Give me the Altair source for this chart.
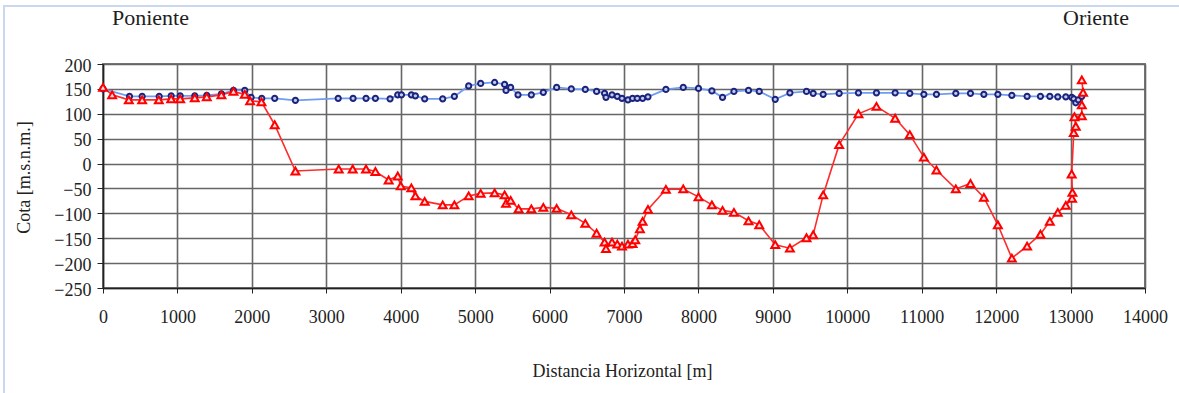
import altair as alt
import pandas as pd

# Perfil topográfico (superficie) y trazado del túnel: distancia horizontal [m] vs cota [m.s.n.m.]
superficie_x = [0, 356, 526, 755, 916, 1037, 1233, 1394, 1591, 1753, 1905, 1990, 2133, 2307,
                2585, 3160, 3360, 3534, 3660, 3857, 3960, 4010, 4143, 4197, 4322, 4564, 4721,
                4913, 5074, 5262, 5396, 5415, 5477, 5576, 5755, 5916, 6095, 6292, 6480, 6632,
                6739, 6758, 6839, 6910, 6973, 7053, 7115, 7178, 7250, 7322, 7563, 7796, 8001,
                8181, 8324, 8477, 8673, 8817, 9032, 9229, 9452, 9542, 9676, 9891, 10150, 10392,
                10643, 10840, 11029, 11198, 11458, 11655, 11835, 12023, 12211, 12416, 12595,
                12721, 12828, 12936, 13016, 13043, 13070, 13105, 13150]
superficie_y = [150, 135, 135, 135, 136, 136, 136, 137, 140, 147, 147, 133, 131, 131,
                127, 131, 131, 131, 131, 130, 138, 138, 138, 136, 130, 130, 135,
                156, 161, 163, 159, 147, 153, 138, 138, 143, 153, 150, 149, 145,
                141, 133, 138, 135, 131, 128, 131, 131, 131, 134, 149, 153, 151,
                146, 133, 145, 147, 145, 129, 142, 145, 141, 139, 141, 142, 142,
                142, 141, 139, 139, 141, 141, 139, 139, 137, 135, 135,
                135, 134, 134, 133, 130, 122, 128, 135]

tunel_x = [0, 123, 347, 526, 750, 916, 1037, 1233, 1394, 1591, 1753, 1905, 1977, 2129,
           2307, 2585, 3167, 3355, 3534, 3660, 3838, 3960, 4000, 4143, 4197, 4322, 4564,
           4721, 4913, 5074, 5262, 5396, 5415, 5477, 5584, 5755, 5916, 6095, 6292, 6480,
           6632, 6739, 6758, 6839, 6910, 6973, 7053, 7115, 7151, 7214, 7250, 7322, 7563,
           7796, 8001, 8181, 8324, 8477, 8673, 8817, 9032, 9229, 9452, 9542, 9676, 9891,
           10150, 10392, 10643, 10840, 11029, 11198, 11458, 11655, 11835, 12023, 12211,
           12416, 12595, 12721, 12828, 12936, 13020, 13025, 13015, 13043, 13070, 13052,
           13151, 13151, 13168, 13151]
tunel_y = [153, 138, 128, 128, 128, 130, 130, 132, 134, 138, 145, 139, 126, 124,
           78, -15, -11, -11, -11, -16, -33, -25, -45, -49, -65, -76, -83,
           -83, -65, -60, -59, -63, -80, -74, -91, -91, -88, -90, -103, -120,
           -140, -158, -171, -158, -162, -166, -162, -161, -153, -131, -116, -92, -52,
           -51, -67, -83, -94, -98, -115, -123, -163, -170, -149, -143, -63, 38,
           100, 115, 91, 58, 13, -13, -51, -40, -68, -123, -190,
           -166, -142, -116, -98, -84, -70, -58, -21, 62, 75, 94,
           96, 118, 143, 168]

x_ticks = list(range(0, 14001, 1000))
y_ticks = list(range(-250, 201, 50))

FONT = "Liberation Serif"

sup = pd.DataFrame({"dist": superficie_x, "cota": superficie_y, "i": range(len(superficie_x))})
tun = pd.DataFrame({"dist": tunel_x, "cota": tunel_y, "i": range(len(tunel_x))})

x_scale = alt.Scale(domain=[0, 14000], nice=False, zero=False)
y_scale = alt.Scale(domain=[-250, 200], nice=False, zero=False)

x_axis = alt.Axis(
    values=x_ticks, format="d", title="Distancia Horizontal [m]",
    labelFont=FONT, labelFontSize=18, labelColor="#222", labelPadding=15,
    labelFlush=False, labelOverlap=False,
    titleFont=FONT, titleFontSize=18, titleFontWeight="normal", titleColor="#222",
    titleX=519, titleY=88, titleBaseline="alphabetic", titleAlign="center",
    tickSize=5, tickColor="#222", domainColor="#222", domainWidth=1.5,
    grid=True, gridColor="#666666", gridWidth=1.6,
)
y_axis = alt.Axis(
    values=y_ticks, format="d", title="Cota [m.s.n.m.]",
    labelFont=FONT, labelFontSize=18, labelColor="#222", labelPadding=6,
    labelBaseline="middle", labelOffset=2, labelFlush=False, labelOverlap=False,
    titleFont=FONT, titleFontSize=18, titleFontWeight="normal", titleColor="#222",
    titleX=-79, titleY=113, titleAlign="center", titleBaseline="middle", titleAngle=-90,
    tickSize=6, tickColor="#222", domainColor="#222", domainWidth=1.5,
    grid=True, gridColor="#666666", gridWidth=1.6,
)

X = alt.X("dist:Q", scale=x_scale, axis=x_axis)
Y = alt.Y("cota:Q", scale=y_scale, axis=y_axis)

sup_line = alt.Chart(sup).mark_line(color="#6f9cf2", strokeWidth=1.8).encode(
    x=X, y=Y, order="i:Q")
sup_pts = alt.Chart(sup).mark_point(
    shape="circle", size=28, filled=False, stroke="#1a237e", strokeWidth=1.9, fill="#c5cae9",
    fillOpacity=1, opacity=1
).encode(x=X, y=Y)

tun_line = alt.Chart(tun).mark_line(color="#ff2a2a", strokeWidth=1.6).encode(
    x=X, y=Y, order="i:Q")
tun_pts = alt.Chart(tun).mark_point(
    shape="triangle-up", size=62, filled=False, stroke="#ff0000", strokeWidth=2, fill="#ffe0e0",
    fillOpacity=1, opacity=1
).encode(x=X, y=Y)

one = pd.DataFrame({"k": [0]})

# marco exterior del gráfico
frame = alt.Chart(one).mark_rect(fill=None, stroke="#c9d8ee", strokeWidth=2).encode(
    x=alt.value(-99), x2=alt.value(1090), y=alt.value(-58), y2=alt.value(340))

poniente = alt.Chart(one).mark_text(
    text="Poniente", font=FONT, fontSize=22, color="#1e1e1e", align="left", baseline="alphabetic"
).encode(x=alt.value(9), y=alt.value(-39))
oriente = alt.Chart(one).mark_text(
    text="Oriente", font=FONT, fontSize=22, color="#1e1e1e", align="left", baseline="alphabetic"
).encode(x=alt.value(960), y=alt.value(-39))

chart = alt.layer(
    sup_line, tun_line, sup_pts, tun_pts, frame, poniente, oriente
).properties(
    width=1042, height=224,
    autosize=alt.AutoSizeParams(type="none"),
    padding={"left": 103, "top": 64, "right": 34, "bottom": 105},
    background="white",
).configure_view(stroke="#7a7a7a", strokeWidth=2)

chart.save("out.html", embed_options={"renderer": "svg", "actions": False})
